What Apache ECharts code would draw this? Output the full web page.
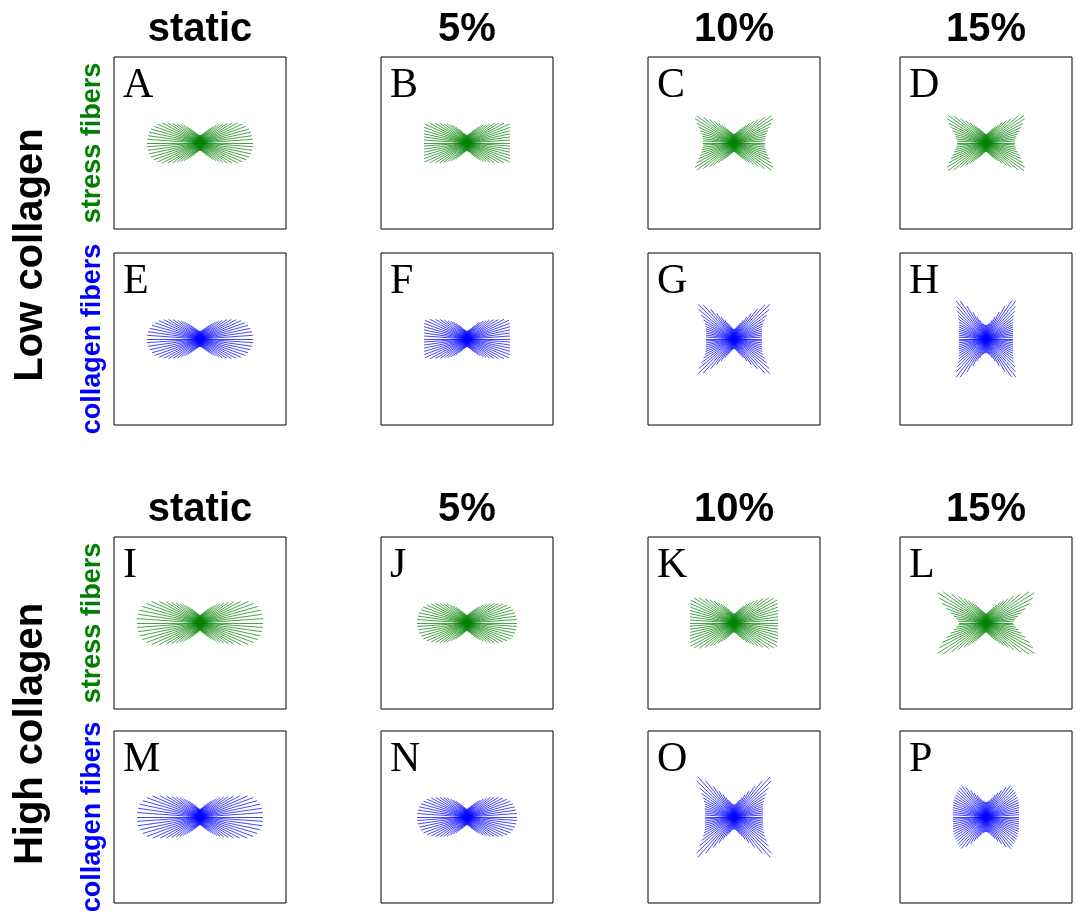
<!DOCTYPE html>
<html>
<head>
<meta charset="utf-8">
<script src="https://cdn.jsdelivr.net/npm/echarts@6/dist/echarts.min.js"></script>
<style>
html, body { margin: 0; padding: 0; background: #fff; }
#chart { width: 1076px; height: 911px; }
</style>
</head>
<body>
<div id="chart"></div>
<script>
// Column headings (stretch amplitude) and row labels
const columnTitles = ['static', '5%', '10%', '15%'];
const groupLabels = ['Low collagen', 'High collagen'];
const fiberLabels = ['stress fibers', 'collagen fibers'];
const panelLetters = ['A','B','C','D','E','F','G','H','I','J','K','L','M','N','O','P'];

// Fiber directions in degrees from the horizontal; each profile is symmetric,
// so the same length is used for +angle and -angle.
const angles = [0, 4, 8, 12, 16, 20, 24, 28, 32, 36, 40, 44, 48, 52, 56, 60, 64, 68, 72, 76, 80, 84, 88];

// Half-length of the drawn fiber line for every direction (one array per panel)
const lowStressStatic = [53, 53, 52.5, 52, 51, 49, 46.5, 42.5, 38, 34, 30, 27, 24, 21, 18, 15, 13, 11, 10, 9, 8.5, 8, 8];
const lowStress5 = [43, 43.1, 43.4, 44, 44.7, 45.8, 46.5, 42, 37.5, 33.5, 30, 27, 24.5, 22, 19, 16, 14, 12, 10.5, 9.5, 9, 8.5, 8];
const lowStress10 = [31, 31, 31.5, 32.5, 34, 36, 39, 42.5, 46, 46, 40, 34, 29, 25, 21.5, 18.5, 16, 14, 12, 11, 10, 9.5, 9];
const lowStress15 = [29, 29, 30, 31, 33, 35.5, 38.5, 42, 45.5, 47, 42, 35.5, 30, 26, 22, 19, 16.5, 14.5, 12.5, 11, 10, 9.5, 9];

const lowCollagenStatic = [53, 53, 52.5, 51.5, 50, 48, 45, 41, 37, 33, 29, 26, 23, 20, 17, 14.5, 12.5, 11, 10, 9, 8.5, 8, 8];
const lowCollagen5 = [43, 43.1, 43.4, 44, 44.7, 45.5, 46, 42, 37, 33, 29.5, 26.5, 24, 21.5, 19, 16, 14, 12, 10.5, 9.5, 9, 8.5, 8];
const lowCollagen10 = [28, 28, 28.3, 28.7, 29.3, 30, 31, 33, 36, 40.5, 46, 50, 46, 38, 31, 25.5, 21, 17.5, 15, 13, 11.5, 10.5, 10];
const lowCollagen15 = [27, 27.1, 27.3, 27.6, 28.1, 28.7, 29.6, 30.6, 32, 34, 36.5, 40, 44, 48.5, 46, 38, 30, 24, 20, 17, 15.5, 14.5, 14];

const highStressStatic = [63, 63, 62.5, 61.5, 60, 57, 53, 46, 40, 35, 31, 28, 25, 22, 19, 16.5, 14, 12.5, 11, 10, 9, 8.5, 8];
const highStress5 = [50, 50, 49.5, 49, 48, 46.5, 44, 40.5, 37, 33.5, 30.5, 27.5, 24.5, 21.5, 19, 16.5, 14, 12.5, 11, 10, 9, 8.5, 8];
const highStress10 = [44, 44.1, 44.4, 45, 45.8, 46.8, 48, 49, 47, 43, 38, 33.5, 29.5, 26, 23, 20, 17.5, 15, 13, 11.5, 10.5, 10, 9.5];
const highStress15 = [27, 28, 30, 33, 37, 42, 48, 53, 57, 53, 45, 38.5, 33, 28.5, 24.5, 21, 18, 15.5, 13.5, 12, 11, 10, 9.5];

const highCollagenStatic = [63, 63, 62.5, 61.5, 59.5, 56.5, 52, 45, 39.5, 35, 31, 28, 25, 22, 19, 16.5, 14, 12.5, 11, 10, 9, 8.5, 8];
const highCollagen5 = [50, 50, 49.5, 48.8, 47.8, 46.2, 43.8, 40.5, 37, 33.5, 30.5, 27.5, 24.5, 21.5, 19, 16.5, 14, 12.5, 11, 10, 9, 8.5, 8];
const highCollagen10 = [29, 29, 29.3, 29.7, 30.3, 31, 32, 34, 36.5, 40, 45, 52, 54, 46, 37, 30, 25, 21, 18, 16, 14, 13, 12.5];
const highCollagen15 = [33, 33.1, 33.3, 33.7, 34.3, 35, 35.8, 36.5, 37.2, 37.8, 38.3, 38.8, 39.5, 40, 36, 31, 27, 23.5, 20.5, 18, 16.5, 15.5, 15];

const panelProfiles = [
  lowStressStatic, lowStress5, lowStress10, lowStress15,
  lowCollagenStatic, lowCollagen5, lowCollagen10, lowCollagen15,
  highStressStatic, highStress5, highStress10, highStress15,
  highCollagenStatic, highCollagen5, highCollagen10, highCollagen15
];

// Layout of the 4x4 panel grid (pixels)
const colLeft = [114, 381, 648, 900];
const rowTop = [57, 253, 537, 731];
const boxSize = 172;
const halfRange = 86;
const stressColor = '#008000';
const collagenColor = '#0000ff';
const fontSans = '"Liberation Sans", Arial, Helvetica, sans-serif';
const fontSerif = '"Liberation Serif", "Times New Roman", serif';

const grids = [], xAxes = [], yAxes = [], series = [], graphics = [];

panelProfiles.forEach((profile, p) => {
  const row = Math.floor(p / 4), col = p % 4;
  const isStress = row % 2 === 0;
  grids.push({
    left: colLeft[col], top: rowTop[row], width: boxSize, height: boxSize,
    show: true, borderColor: '#000', borderWidth: 1, backgroundColor: 'transparent'
  });
  xAxes.push({ gridIndex: p, type: 'value', min: -halfRange, max: halfRange, show: false });
  yAxes.push({ gridIndex: p, type: 'value', min: -halfRange, max: halfRange, show: false });

  const data = [];
  angles.forEach((deg, k) => {
    const r = profile[k];
    const signs = deg === 0 ? [1] : [1, -1];
    signs.forEach(s => {
      const t = s * deg * Math.PI / 180;
      const dx = r * Math.cos(t), dy = r * Math.sin(t);
      data.push({ coords: [[-dx, -dy], [dx, dy]] });
    });
  });
  series.push({
    type: 'lines',
    coordinateSystem: 'cartesian2d',
    xAxisIndex: p, yAxisIndex: p,
    silent: true,
    lineStyle: { color: isStress ? stressColor : collagenColor, width: 1, opacity: 0.72, curveness: 0 },
    data: data
  });

  graphics.push({
    type: 'text', left: colLeft[col] + 9, top: rowTop[row] + 8,
    style: { text: panelLetters[p], font: '42px ' + fontSerif, fill: '#000' }
  });
});

// Column titles above each block of panels
[0, 2].forEach(row => {
  columnTitles.forEach((t, col) => {
    graphics.push({
      type: 'text', x: colLeft[col] + boxSize / 2, y: rowTop[row] - 27,
      style: { text: t, font: 'bold 40px ' + fontSans, fill: '#000', align: 'center', verticalAlign: 'middle' }
    });
  });
});

// Vertical group labels and fiber-type labels
groupLabels.forEach((t, g) => {
  const top = rowTop[g * 2], bottom = rowTop[g * 2 + 1] + boxSize;
  graphics.push({
    type: 'text', x: 31, y: (top + bottom) / 2 + 14, rotation: Math.PI / 2,
    style: { text: t, font: 'bold 40px ' + fontSans, fill: '#000', align: 'center', verticalAlign: 'middle' }
  });
  fiberLabels.forEach((f, k) => {
    const rTop = rowTop[g * 2 + k];
    graphics.push({
      type: 'text', x: 93, y: rTop + boxSize / 2, rotation: Math.PI / 2,
      style: { text: f, font: 'bold 27px ' + fontSans, fill: k === 0 ? stressColor : collagenColor, align: 'center', verticalAlign: 'middle' }
    });
  });
});

const chart = echarts.init(document.getElementById('chart'), null, { renderer: 'canvas' });
chart.setOption({
  animation: false,
  backgroundColor: '#fff',
  grid: grids,
  xAxis: xAxes,
  yAxis: yAxes,
  series: series,
  graphic: { elements: graphics }
});
</script>
</body>
</html>
